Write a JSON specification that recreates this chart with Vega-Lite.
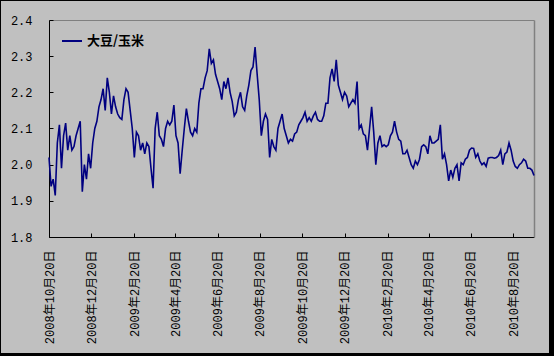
{
  "$schema": "https://vega.github.io/schema/vega-lite/v6.json",
  "width": 548,
  "height": 352,
  "autosize": {"type": "none"},
  "padding": {"left": 1, "top": 1, "right": 5, "bottom": 3},
  "background": "#000000",
  "config": {"view": {"fill": "#C0C0C0", "stroke": null}},
  "data": {"values": [
    {"d":"2008-10-20","v":2.02},{"d":"2008-10-23","v":1.94},{"d":"2008-10-26","v":1.96},{"d":"2008-10-29","v":1.915},
    {"d":"2008-11-01","v":2.06},{"d":"2008-11-04","v":2.11},{"d":"2008-11-07","v":1.99},{"d":"2008-11-10","v":2.08},
    {"d":"2008-11-13","v":2.115},{"d":"2008-11-16","v":2.04},{"d":"2008-11-19","v":2.08},{"d":"2008-11-22","v":2.04},
    {"d":"2008-11-25","v":2.05},{"d":"2008-11-28","v":2.08},{"d":"2008-12-01","v":2.10},{"d":"2008-12-04","v":2.12},
    {"d":"2008-12-07","v":1.925},{"d":"2008-12-10","v":2.00},{"d":"2008-12-13","v":1.96},{"d":"2008-12-16","v":2.03},
    {"d":"2008-12-19","v":1.99},{"d":"2008-12-22","v":2.06},{"d":"2008-12-25","v":2.10},{"d":"2008-12-28","v":2.12},
    {"d":"2008-12-31","v":2.16},{"d":"2009-01-03","v":2.18},{"d":"2009-01-06","v":2.21},{"d":"2009-01-09","v":2.15},
    {"d":"2009-01-12","v":2.24},{"d":"2009-01-15","v":2.20},{"d":"2009-01-18","v":2.14},{"d":"2009-01-21","v":2.19},
    {"d":"2009-01-24","v":2.16},{"d":"2009-01-27","v":2.14},{"d":"2009-01-30","v":2.13},{"d":"2009-02-02","v":2.125},
    {"d":"2009-02-05","v":2.18},{"d":"2009-02-08","v":2.21},{"d":"2009-02-11","v":2.20},{"d":"2009-02-14","v":2.15},
    {"d":"2009-02-17","v":2.10},{"d":"2009-02-20","v":2.02},{"d":"2009-02-23","v":2.09},{"d":"2009-02-26","v":2.08},
    {"d":"2009-03-01","v":2.04},{"d":"2009-03-04","v":2.06},{"d":"2009-03-07","v":2.03},{"d":"2009-03-10","v":2.06},
    {"d":"2009-03-13","v":2.05},{"d":"2009-03-16","v":1.99},{"d":"2009-03-19","v":1.935},{"d":"2009-03-22","v":2.10},
    {"d":"2009-03-25","v":2.145},{"d":"2009-03-28","v":2.08},{"d":"2009-03-31","v":2.07},{"d":"2009-04-03","v":2.05},
    {"d":"2009-04-06","v":2.10},{"d":"2009-04-09","v":2.12},{"d":"2009-04-12","v":2.11},{"d":"2009-04-15","v":2.12},
    {"d":"2009-04-18","v":2.165},{"d":"2009-04-21","v":2.08},{"d":"2009-04-24","v":2.06},{"d":"2009-04-27","v":1.975},
    {"d":"2009-04-30","v":2.04},{"d":"2009-05-03","v":2.10},{"d":"2009-05-06","v":2.155},{"d":"2009-05-09","v":2.12},
    {"d":"2009-05-12","v":2.09},{"d":"2009-05-15","v":2.08},{"d":"2009-05-18","v":2.10},{"d":"2009-05-21","v":2.09},
    {"d":"2009-05-24","v":2.17},{"d":"2009-05-27","v":2.21},{"d":"2009-05-30","v":2.21},{"d":"2009-06-02","v":2.24},
    {"d":"2009-06-05","v":2.26},{"d":"2009-06-08","v":2.32},{"d":"2009-06-11","v":2.28},{"d":"2009-06-14","v":2.29},
    {"d":"2009-06-17","v":2.25},{"d":"2009-06-20","v":2.23},{"d":"2009-06-23","v":2.21},{"d":"2009-06-26","v":2.18},
    {"d":"2009-06-29","v":2.23},{"d":"2009-07-02","v":2.21},{"d":"2009-07-05","v":2.24},{"d":"2009-07-08","v":2.20},
    {"d":"2009-07-11","v":2.175},{"d":"2009-07-14","v":2.135},{"d":"2009-07-17","v":2.145},{"d":"2009-07-20","v":2.18},
    {"d":"2009-07-23","v":2.20},{"d":"2009-07-26","v":2.16},{"d":"2009-07-29","v":2.15},{"d":"2009-08-01","v":2.19},
    {"d":"2009-08-04","v":2.22},{"d":"2009-08-07","v":2.26},{"d":"2009-08-10","v":2.27},{"d":"2009-08-13","v":2.325},
    {"d":"2009-08-16","v":2.25},{"d":"2009-08-19","v":2.18},{"d":"2009-08-22","v":2.08},{"d":"2009-08-25","v":2.12},
    {"d":"2009-08-28","v":2.14},{"d":"2009-08-31","v":2.125},{"d":"2009-09-03","v":2.02},{"d":"2009-09-06","v":2.07},
    {"d":"2009-09-09","v":2.05},{"d":"2009-09-12","v":2.04},{"d":"2009-09-15","v":2.10},{"d":"2009-09-18","v":2.12},
    {"d":"2009-09-21","v":2.14},{"d":"2009-09-24","v":2.10},{"d":"2009-09-27","v":2.08},{"d":"2009-09-30","v":2.06},
    {"d":"2009-10-03","v":2.07},{"d":"2009-10-06","v":2.065},{"d":"2009-10-09","v":2.085},{"d":"2009-10-12","v":2.09},
    {"d":"2009-10-15","v":2.11},{"d":"2009-10-18","v":2.12},{"d":"2009-10-21","v":2.13},{"d":"2009-10-24","v":2.145},
    {"d":"2009-10-27","v":2.12},{"d":"2009-10-30","v":2.13},{"d":"2009-11-02","v":2.12},{"d":"2009-11-05","v":2.135},
    {"d":"2009-11-08","v":2.145},{"d":"2009-11-11","v":2.125},{"d":"2009-11-14","v":2.12},{"d":"2009-11-17","v":2.12},
    {"d":"2009-11-20","v":2.135},{"d":"2009-11-23","v":2.17},{"d":"2009-11-26","v":2.17},{"d":"2009-11-29","v":2.24},
    {"d":"2009-12-02","v":2.265},{"d":"2009-12-05","v":2.23},{"d":"2009-12-08","v":2.29},{"d":"2009-12-11","v":2.22},
    {"d":"2009-12-14","v":2.20},{"d":"2009-12-17","v":2.18},{"d":"2009-12-20","v":2.20},{"d":"2009-12-23","v":2.19},
    {"d":"2009-12-26","v":2.16},{"d":"2009-12-29","v":2.17},{"d":"2010-01-01","v":2.18},{"d":"2010-01-04","v":2.17},
    {"d":"2010-01-07","v":2.23},{"d":"2010-01-10","v":2.10},{"d":"2010-01-13","v":2.11},{"d":"2010-01-16","v":2.085},
    {"d":"2010-01-19","v":2.08},{"d":"2010-01-22","v":2.04},{"d":"2010-01-25","v":2.10},{"d":"2010-01-28","v":2.16},
    {"d":"2010-01-31","v":2.09},{"d":"2010-02-03","v":2.00},{"d":"2010-02-06","v":2.06},{"d":"2010-02-09","v":2.08},
    {"d":"2010-02-12","v":2.05},{"d":"2010-02-15","v":2.055},{"d":"2010-02-18","v":2.05},{"d":"2010-02-21","v":2.055},
    {"d":"2010-02-24","v":2.08},{"d":"2010-02-27","v":2.09},{"d":"2010-03-02","v":2.12},{"d":"2010-03-05","v":2.09},
    {"d":"2010-03-08","v":2.07},{"d":"2010-03-11","v":2.065},{"d":"2010-03-14","v":2.03},{"d":"2010-03-17","v":2.03},
    {"d":"2010-03-20","v":2.04},{"d":"2010-03-23","v":2.02},{"d":"2010-03-26","v":2.00},{"d":"2010-03-29","v":1.99},
    {"d":"2010-04-01","v":2.01},{"d":"2010-04-04","v":2.00},{"d":"2010-04-07","v":2.015},{"d":"2010-04-10","v":2.05},
    {"d":"2010-04-13","v":2.055},{"d":"2010-04-16","v":2.05},{"d":"2010-04-19","v":2.03},{"d":"2010-04-22","v":2.08},
    {"d":"2010-04-25","v":2.06},{"d":"2010-04-28","v":2.06},{"d":"2010-05-01","v":2.065},{"d":"2010-05-04","v":2.07},
    {"d":"2010-05-07","v":2.11},{"d":"2010-05-10","v":2.015},{"d":"2010-05-13","v":2.03},{"d":"2010-05-16","v":2.00},
    {"d":"2010-05-19","v":1.955},{"d":"2010-05-22","v":1.985},{"d":"2010-05-25","v":1.965},{"d":"2010-05-28","v":1.99},
    {"d":"2010-05-31","v":2.00},{"d":"2010-06-03","v":1.955},{"d":"2010-06-06","v":2.005},{"d":"2010-06-09","v":2.00},
    {"d":"2010-06-12","v":2.015},{"d":"2010-06-15","v":2.02},{"d":"2010-06-18","v":2.04},{"d":"2010-06-21","v":2.046},
    {"d":"2010-06-24","v":2.045},{"d":"2010-06-27","v":2.02},{"d":"2010-06-30","v":2.03},{"d":"2010-07-03","v":2.01},
    {"d":"2010-07-06","v":2.00},{"d":"2010-07-09","v":2.005},{"d":"2010-07-12","v":1.995},{"d":"2010-07-15","v":2.018},
    {"d":"2010-07-18","v":2.02},{"d":"2010-07-21","v":2.02},{"d":"2010-07-24","v":2.018},{"d":"2010-07-27","v":2.02},
    {"d":"2010-07-30","v":2.025},{"d":"2010-08-02","v":2.04},{"d":"2010-08-05","v":2.00},{"d":"2010-08-08","v":2.03},
    {"d":"2010-08-11","v":2.035},{"d":"2010-08-14","v":2.06},{"d":"2010-08-17","v":2.04},{"d":"2010-08-20","v":2.01},
    {"d":"2010-08-23","v":1.995},{"d":"2010-08-26","v":1.99},{"d":"2010-08-29","v":2.00},{"d":"2010-09-01","v":2.005},
    {"d":"2010-09-04","v":2.015},{"d":"2010-09-07","v":2.01},{"d":"2010-09-10","v":1.99},{"d":"2010-09-13","v":1.99},
    {"d":"2010-09-16","v":1.985},{"d":"2010-09-19","v":1.97}
  ]},
  "resolve": {"axis": {"x": "independent", "y": "independent"}},
  "layer": [
    {
      "mark": {"type": "line", "strokeWidth": 1.6},
      "encoding": {
        "x": {
          "field": "d", "type": "temporal",
          "scale": {"type": "utc", "domain": [{"year": 2008, "month": 10, "date": 20, "utc": true}, {"year": 2010, "month": 9, "date": 19, "utc": true}], "range": [48, 533], "nice": false},
          "axis": {
            "orient": "bottom", "offset": -116, "title": null, "grid": false,
            "values": [
              {"year": 2008, "month": 10, "date": 20, "utc": true},
              {"year": 2008, "month": 12, "date": 20, "utc": true},
              {"year": 2009, "month": 2, "date": 20, "utc": true},
              {"year": 2009, "month": 4, "date": 20, "utc": true},
              {"year": 2009, "month": 6, "date": 20, "utc": true},
              {"year": 2009, "month": 8, "date": 20, "utc": true},
              {"year": 2009, "month": 10, "date": 20, "utc": true},
              {"year": 2009, "month": 12, "date": 20, "utc": true},
              {"year": 2010, "month": 2, "date": 20, "utc": true},
              {"year": 2010, "month": 4, "date": 20, "utc": true},
              {"year": 2010, "month": 6, "date": 20, "utc": true},
              {"year": 2010, "month": 8, "date": 20, "utc": true}
            ],
            "labelExpr": "utcFormat(datum.value, '%Y年%-m月%-d日')",
            "labelAngle": 270, "labelFont": "Liberation Mono, Noto Sans CJK SC", "labelFontSize": 12,
            "labelColor": "#000000", "labelOverlap": false, "labelFlush": false, "labelBound": false,
            "domainColor": "#000000", "domainWidth": 1, "tickColor": "#000000", "tickSize": -4, "labelPadding": 17
          }
        },
        "y": {
          "field": "v", "type": "quantitative",
          "scale": {"domain": [1.8, 2.4], "range": [236, 19], "nice": false, "zero": false},
          "axis": {
            "orient": "left", "offset": -48, "title": null, "grid": false,
            "values": [1.8, 1.9, 2.0, 2.1, 2.2, 2.3, 2.4], "format": ".1f",
            "labelFont": "Liberation Mono", "labelFontSize": 12, "labelColor": "#000000",
            "labelOverlap": false, "labelFlush": false, "labelBound": false,
            "domainColor": "#000000", "domainWidth": 1, "tickColor": "#000000", "tickSize": -4, "labelPadding": 21
          }
        },
        "color": {
          "datum": "大豆/玉米",
          "scale": {"range": ["#000080"]},
          "legend": {
            "title": null, "orient": "none", "legendX": 60, "legendY": 29, "padding": 0,
            "symbolType": "stroke", "symbolSize": 400, "symbolStrokeWidth": 2, "symbolStrokeColor": "#000080",
            "labelFont": "Noto Sans CJK SC", "labelFontSize": 13, "labelFontWeight": "bold", "labelColor": "#000000", "labelOffset": 4
          }
        }
      }
    },
    {
      "mark": {"type": "line", "strokeOpacity": 0},
      "encoding": {
        "x": {"field": "d", "type": "temporal", "axis": {"orient": "top", "offset": -19, "title": null, "labels": false, "ticks": false, "grid": false, "domainColor": "#808080", "domainWidth": 1}},
        "y": {"field": "v", "type": "quantitative", "axis": {"orient": "right", "offset": -15, "title": null, "labels": false, "ticks": false, "grid": false, "domainColor": "#808080", "domainWidth": 1.5}}
      }
    }
  ]
}
